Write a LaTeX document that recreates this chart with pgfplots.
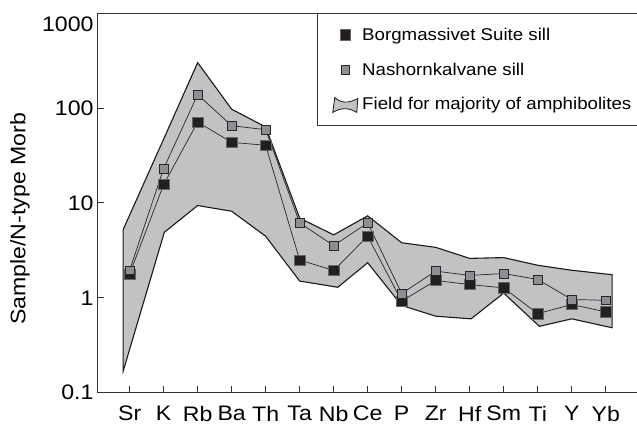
\documentclass[border=0pt]{standalone}
\usepackage{fontspec}
\setmainfont[FakeStretch=1.1]{Liberation Sans}
\usepackage{pgfplots}
\pgfplotsset{compat=1.18}
\definecolor{fieldgray}{HTML}{C1C2C4}
\definecolor{mkblack}{HTML}{231F20}
\definecolor{mkgray}{HTML}{8E8F92}
\pgfplotsset{
  markonlylegend/.style={legend image code/.code={\path (0pt,0pt) (27pt,0pt); \draw[##1] plot[only marks] coordinates {(12.5pt,0pt)};}},
  fieldlegend/.style={legend image code/.code={\path (0pt,0pt) (27pt,0pt); \draw[fill=fieldgray, draw=black!90, line width=0.8pt] (0pt,-8pt) -- (2pt,7pt) .. controls (8pt,1pt) and (16pt,1pt) .. (25pt,6pt) -- (24pt,-8pt) .. controls (16pt,-3pt) and (8pt,-3pt) .. (0pt,-8pt) -- cycle;}},
}
\begin{document}
\begin{tikzpicture}
\useasboundingbox (0,0) rectangle (637pt,426pt);
\begin{axis}[
  at={(97pt,33.3pt)}, anchor=south west,
  scale only axis, width=540pt, height=379.7pt,
  ymode=log, ymin=0.1, ymax=1000,
  xmin=-0.96, xmax=14.92,
  axis x line*=bottom, axis y line*=left,
  axis line style={line width=0.9pt, color=black!80},
  xtick={0,...,14},
  xticklabels={Sr,K,Rb,Ba,Th,Ta,Nb,Ce,P,Zr,Hf,Sm,Ti,Y,Yb},
  ytick={0.1,1,10,100},
  yticklabels={0.1,1,10,100},
  extra y ticks={1000}, extra y tick labels={1000},
  extra y tick style={grid=none, yticklabel style={yshift=-11pt}},
  yminorticks=false,
  tick align=inside,
  major tick length=6.5pt,
  tick style={line width=0.8pt, color=black!80},
  ticklabel style={font=\fontsize{21}{25}\selectfont},
  xticklabel style={yshift=-10pt},
  ylabel={Sample/N-type Morb},
  ylabel style={font=\fontsize{21}{25}\selectfont, at={(rel axis cs:-0.1426,0.4575)}, anchor=center},
  legend style={at={(rel axis cs:0.4074,1)}, anchor=north west, draw=black!80, line width=0.8pt,
    font=\fontsize{17}{21}\selectfont, row sep=17pt, inner xsep=15pt, inner ysep=12.5pt},
  legend cell align=left,
]
\addplot[fill=fieldgray, draw=black!90, line width=1.1pt, forget plot] coordinates {
  (-0.19,5.24) (1,47) (2,300) (3,97) (4,63) (5,6.9) (6,4.6) (7,7.3) (8,3.8) (9,3.4) (10,2.6) (11,2.65) (12,2.2) (13,1.95) (14.19,1.75)
  (14.19,0.483) (13,0.60) (12.05,0.50) (11,1.12) (10.04,0.60) (9,0.64) (8,0.83) (7,2.34) (6.12,1.29) (5,1.5) (4,4.45) (3,8.16) (2,9.37) (1.02,4.9) (-0.19,0.169)
} -- cycle;
\addplot[color=black!85, line width=0.7pt, mark=square*, mark size=5.2pt,
  mark options={fill=mkblack, draw=black!60, line width=0.6pt}, markonlylegend]
  coordinates {
  (0,1.78) (1,15.6) (2,71) (3,43.4) (4,40.4) (5,2.5) (6,1.94) (7,4.45) (8,0.92) (9,1.52) (10,1.38) (11,1.27) (12,0.68) (13,0.85) (14,0.71)
};
\addlegendentry{Borgmassivet Suite sill}
\addplot[color=black!85, line width=0.7pt, mark=square*, mark size=4.4pt,
  mark options={fill=mkgray, draw=black!85, line width=0.6pt}, markonlylegend]
  coordinates {
  (0,1.95) (1,23) (2,138) (3,65) (4,59) (5,6.15) (6,3.55) (7,6.15) (8,1.11) (9,1.91) (10,1.72) (11,1.80) (12,1.56) (13,0.96) (14,0.94)
};
\addlegendentry{Nashornkalvane sill}
\addlegendimage{fieldlegend}
\addlegendentry{Field for majority of amphibolites\hspace{30pt}}
\draw[line width=0.9pt, black!80] (rel axis cs:0,1) -- (rel axis cs:1,1);
\end{axis}
\end{tikzpicture}
\end{document}
